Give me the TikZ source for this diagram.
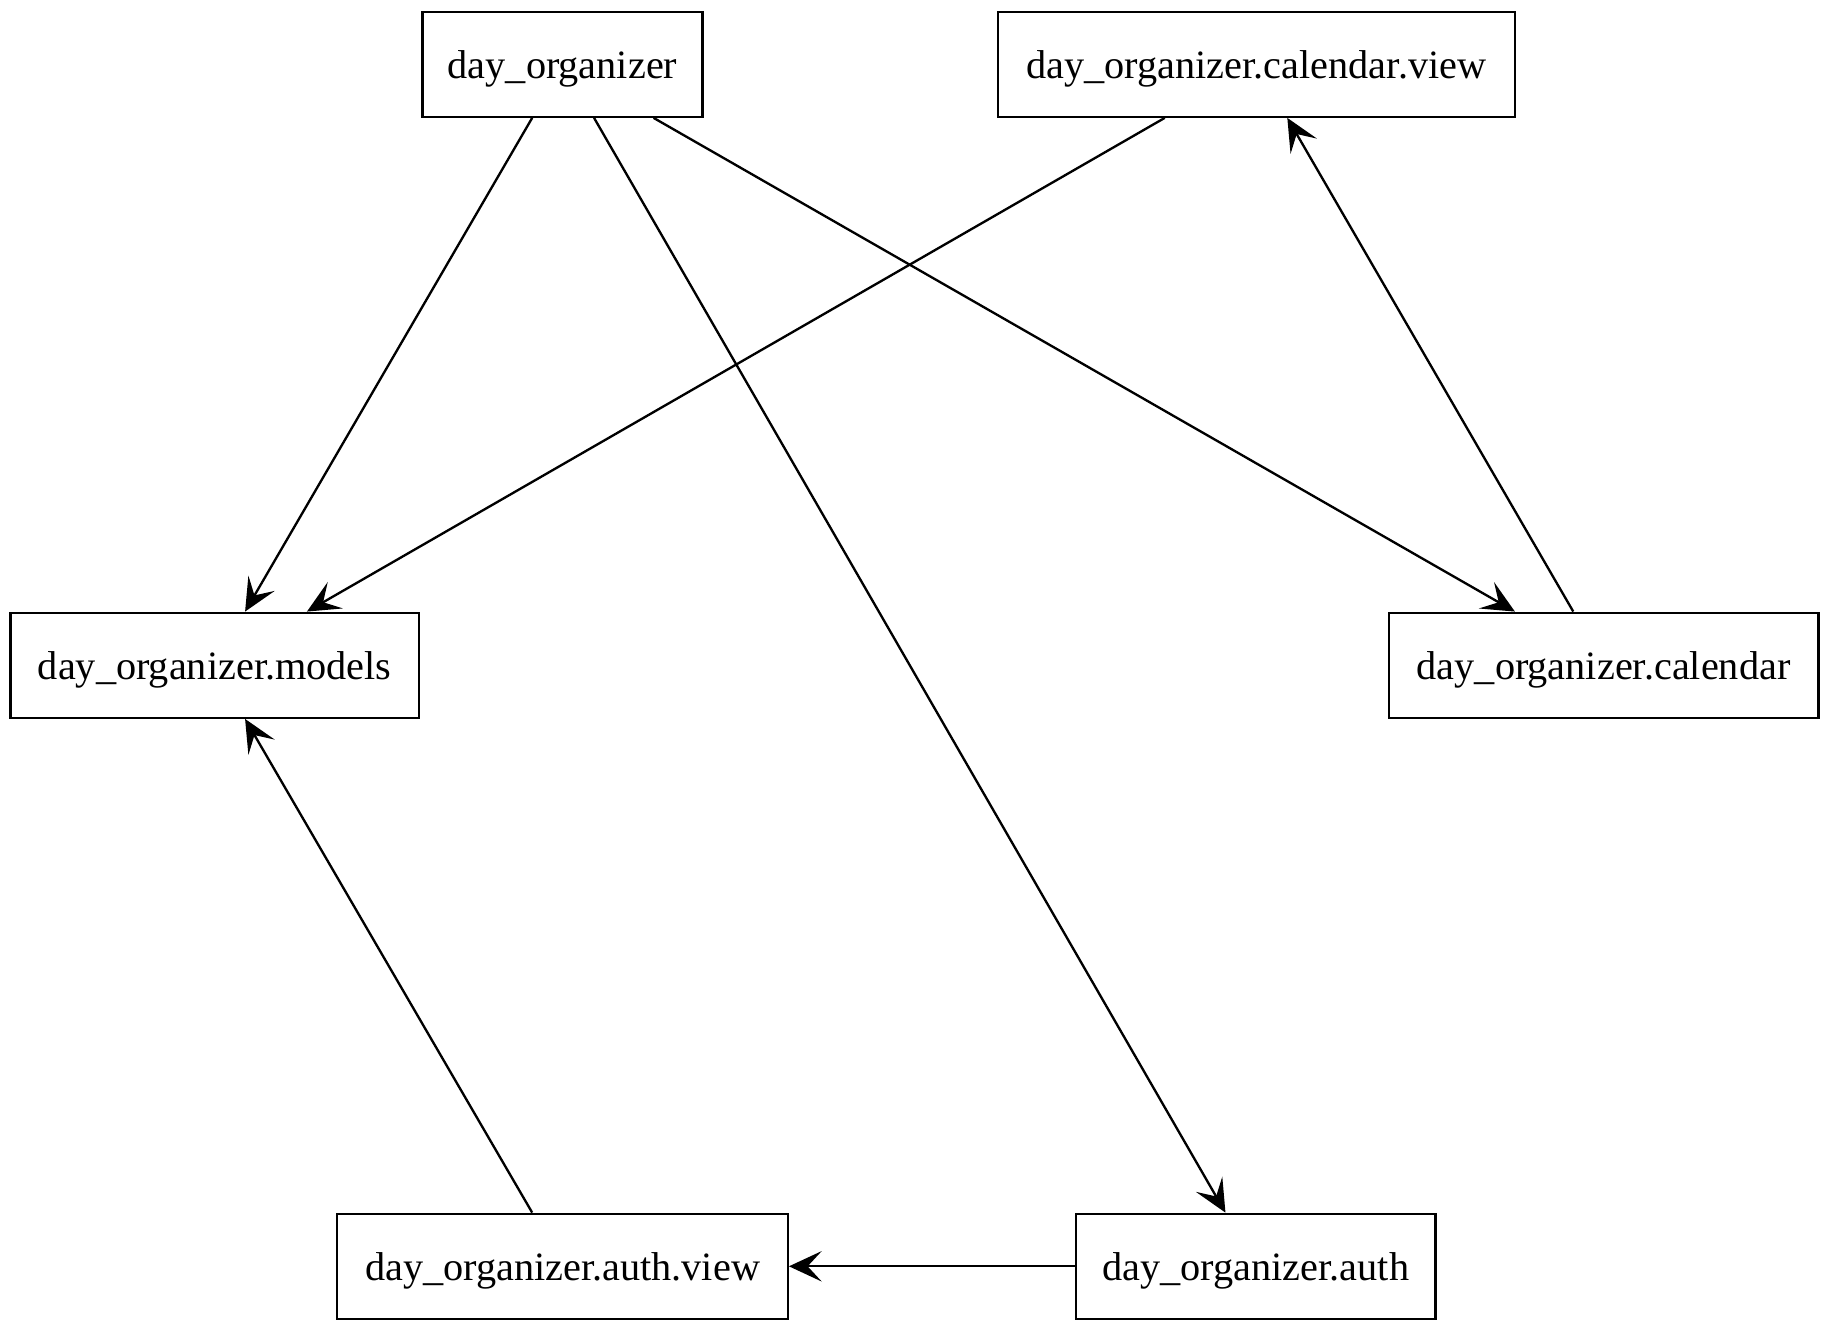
\documentclass[tikz,border=0pt]{standalone}
\usepackage{fontspec}
\setmainfont{Liberation Serif}
\usetikzlibrary{arrows.meta}
\begin{document}
\begin{tikzpicture}[x=1pt,y=-1pt,
  box/.style={draw,line width=2pt,inner sep=0pt,minimum height=90pt,text height=32pt,text depth=8pt,font=\fontsize{34.5}{40}\selectfont},
  arr/.style={line width=2pt,-{Stealth[length=28pt,width=26pt,inset=12pt]}}]
\useasboundingbox (0,0) rectangle (1568,1141);
\node[box,minimum width=240pt] (do) at (482,55) {day\_organizer};
\node[box,minimum width=443pt] (cv) at (1076.5,55) {day\_organizer.calendar.view};
\node[box,minimum width=350pt] (mo) at (184,570) {day\_organizer.models};
\node[box,minimum width=368pt] (ca) at (1374,570) {day\_organizer.calendar};
\node[box,minimum width=386pt] (av) at (482,1085) {day\_organizer.auth.view};
\node[box,minimum width=308pt] (au) at (1076,1085) {day\_organizer.auth};
\draw[arr] ([xshift=-26pt]do.south) -- ([xshift=26pt]mo.north);
\draw[arr] ([xshift=27pt]do.south) -- ([xshift=-26pt]au.north);
\draw[arr] ([xshift=78pt]do.south) -- ([xshift=-76pt]ca.north);
\draw[arr] ([xshift=-78.5pt]cv.south) -- ([xshift=79pt]mo.north);
\draw[arr] ([xshift=-26pt]ca.north) -- ([xshift=26.5pt]cv.south);
\draw[arr] ([xshift=-26pt]av.north) -- ([xshift=26pt]mo.south);
\draw[arr] (au.west) -- (av.east);
\end{tikzpicture}
\end{document}
